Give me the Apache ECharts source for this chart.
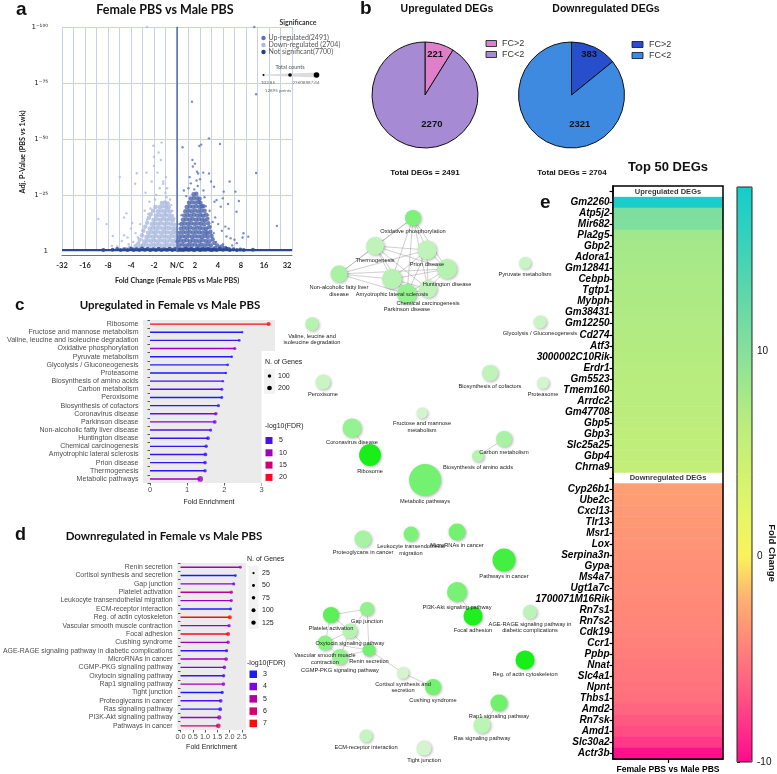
<!DOCTYPE html>
<html><head><meta charset="utf-8">
<script src="https://cdn.jsdelivr.net/npm/echarts@6/dist/echarts.min.js"></script>
<style>html,body{margin:0;padding:0;background:#fff}#c{width:777px;height:774px}</style>
</head><body><div id="c"></div>
<script>
// ---------------- DATA ----------------
// Panel a: volcano (log2 fold change, -log10 adj p)
const volcanoDownCore = [[-1.55,0.9],[-1.42,0.6],[-1.28,1.0],[-1.14,0.7],[-1.0,0.9],[-0.86,0.6],[-0.72,1.1],[-0.58,0.8],[-0.44,0.7],[-0.3,1.0],[-0.16,0.8],[-0.04,0.6],
[-1.48,2.6],[-1.35,2.9],[-1.21,2.5],[-1.07,2.8],[-0.93,2.6],[-0.79,2.9],[-0.65,2.5],[-0.51,2.8],[-0.37,2.6],[-0.23,2.9],[-0.09,2.5],
[-1.4,4.4],[-1.27,4.7],[-1.13,4.5],[-0.99,4.8],[-0.85,4.4],[-0.71,4.7],[-0.57,4.6],[-0.43,4.4],[-0.29,4.8],[-0.15,4.5],[-0.03,4.3],
[-1.33,6.3],[-1.2,6.6],[-1.06,6.4],[-0.92,6.7],[-0.78,6.3],[-0.64,6.6],[-0.5,6.5],[-0.36,6.3],[-0.22,6.7],[-0.08,6.4],
[-1.26,8.2],[-1.12,8.5],[-0.98,8.3],[-0.84,8.6],[-0.7,8.2],[-0.56,8.5],[-0.42,8.4],[-0.28,8.2],[-0.14,8.5],[-0.03,8.1],
[-1.18,10.1],[-1.04,10.4],[-0.9,10.2],[-0.76,10.5],[-0.62,10.1],[-0.48,10.4],[-0.34,10.3],[-0.2,10.1],[-0.07,10.0],
[-1.1,12.0],[-0.97,12.3],[-0.83,12.1],[-0.69,12.4],[-0.55,12.0],[-0.41,12.3],[-0.27,12.2],[-0.13,11.8],
[-1.02,13.9],[-0.88,14.2],[-0.74,14.0],[-0.6,14.3],[-0.46,13.9],[-0.32,14.2],[-0.18,13.8],
[-0.92,15.8],[-0.78,16.1],[-0.64,15.9],[-0.5,16.2],[-0.36,15.8],[-0.22,15.6],
[-0.84,17.7],[-0.7,18.0],[-0.56,17.8],[-0.42,18.1],[-0.3,17.6],
[-0.76,19.6],[-0.62,19.9],[-0.48,19.7],[-0.36,19.5],
[-0.66,21.4],[-0.52,21.7],[-0.4,21.2],
[-2.2,0.8],[-2.05,1.5],[-1.9,0.9],[-1.8,2.2],[-1.7,1.2],[-1.68,3.4],[-1.62,5.0],[-1.56,2.0],[-1.52,7.0],[-1.46,9.0],[-1.38,10.8],[-1.3,12.6],[-1.22,14.8],[-1.14,16.4],[-1.04,18.0],[-0.94,19.6]];
const volcanoDownSparse = [[-0.9,25],[-0.75,28],[-0.6,31],[-0.85,35],[-1.0,38],[-0.7,40.6],[-0.95,23],[-1.15,19],[-1.3,14],[-1.5,9],[-1.7,6],[-1.9,4],[-2.1,3],[-2.3,7],[-1.6,12],[-0.5,26],[-0.8,44],[-1.03,47],[-0.67,48.4],[-1.0,42],[-2.49,33],[-3.42,14.3],[-3.06,12],[-2.2,16.8],[-2.3,15],[-2.79,6.7],[-2.83,2.3],[-1.75,34.7],[-1.33,35],[-1.82,30],[-1.37,26],[-1.3,100],[-0.48,33],[-0.43,28],[-0.6,30],[-1.2,22],[-0.45,24],[-1.1,31],[-2.6,2],[-1.4,18],[-1.25,16.5],[-1.8,8],[-2.0,10],[-0.3,23],[-0.2,18],[-2.4,4.5],[-2.15,6],[-1.95,12.5],[-0.25,20.5],[-0.12,14.5]];
const volcanoUpCore = [[0.04,0.9],[0.17,0.6],[0.31,1.0],[0.44,0.7],[0.58,0.9],[0.71,0.6],[0.86,1.1],[0.99,0.8],[1.13,0.7],[1.27,1.0],[1.41,0.8],[1.55,0.6],
[0.09,2.6],[0.23,2.9],[0.37,2.5],[0.5,2.8],[0.64,2.6],[0.78,2.9],[0.92,2.5],[1.06,2.8],[1.2,2.6],[1.34,2.9],[1.47,2.5],
[0.03,4.4],[0.16,4.7],[0.3,4.5],[0.43,4.8],[0.57,4.4],[0.7,4.7],[0.84,4.6],[0.98,4.4],[1.12,4.8],[1.26,4.5],[1.4,4.3],
[0.1,6.3],[0.24,6.6],[0.37,6.4],[0.51,6.7],[0.65,6.3],[0.79,6.6],[0.93,6.5],[1.07,6.3],[1.21,6.7],[1.34,6.2],
[0.12,8.2],[0.27,8.5],[0.41,8.3],[0.55,8.6],[0.69,8.2],[0.83,8.5],[0.97,8.4],[1.11,8.2],[1.25,8.5],[1.33,7.9],
[0.16,10.1],[0.3,10.4],[0.44,10.2],[0.58,10.5],[0.72,10.1],[0.86,10.4],[1.0,10.3],[1.14,10.1],[1.27,10.0],
[0.2,12.0],[0.34,12.3],[0.48,12.1],[0.62,12.4],[0.76,12.0],[0.9,12.3],[1.04,12.2],[1.18,11.9],
[0.26,13.9],[0.4,14.2],[0.54,14.0],[0.68,14.3],[0.82,13.9],[0.96,14.2],[1.1,14.0],[1.21,13.6],
[0.32,15.8],[0.46,16.1],[0.6,15.9],[0.74,16.2],[0.88,15.8],[1.02,16.1],[1.14,15.7],
[0.36,17.7],[0.5,18.0],[0.64,17.8],[0.78,18.1],[0.92,17.7],[1.06,18.0],
[0.42,19.6],[0.56,19.9],[0.7,19.7],[0.84,20.0],[0.98,19.6],[1.08,19.9],
[0.52,21.5],[0.66,21.8],[0.8,21.6],[0.94,21.9],[1.02,21.4],
[0.6,23.4],[0.74,23.7],[0.88,23.5],[0.98,23.3],
[0.72,25.3],[0.84,25.6],
[1.65,1.2],[1.75,2.5],[1.85,1.0],[1.95,2.0],[2.1,1.3],[2.25,0.9],[1.62,3.6],[1.55,5.2],[1.5,6.8],[1.45,8.6],[1.4,10.6],[1.36,12.4],[1.32,14.4],[1.26,16.2],[1.2,18.0],[1.14,20.0]];
const volcanoUpSparse = [[0.24,46.3],[0.67,40.6],[0.78,39],[0.97,46.9],[1.05,47.5],[1.39,50.3],[1.87,47.8],[0.87,35.4],[0.92,34.6],[1.14,35],[1.39,34.6],[1.61,28.7],[2.29,31],[2.03,26.5],[2.54,26.5],[2.69,22.3],[2.59,17.5],[1.72,22.8],[1.9,19.8],[2.1,10.9],[2.33,5.7],[2.5,5],[2.89,7.9],[2.85,6],[2.25,10],[1.66,15],[1.79,12],[3.36,100],[0.65,66.6],[3.44,70],[0.69,37.7],[3.44,34.8],[1.48,31],[4.34,11.2],[3.1,6.4],[2.22,21],[1.63,22],[1.99,23.5],[0.5,28],[0.6,30.2],[0.9,29],[1.0,32],[0.75,27.5],[1.15,27],[0.4,24.5],[1.25,20],[1.35,16],[1.45,11],[1.6,8],[1.7,4],[1.85,2],[2.0,3],[0.3,27],[0.85,31.5],[1.55,13],[1.42,18],[0.55,33],[1.2,24],[2.4,2.5],[2.6,3.5],[2.15,6.5],[1.95,9],[0.2,16],[0.1,12]];
const volcanoNS = [[-3.2,0.5],[-2.8,0.6],[-2.6,0.9],[-2.45,0.4],[-2.3,0.8],[-2.15,0.5],[-2.0,1.0],[-1.88,0.4],[-1.76,0.8],[-1.64,0.5],[-1.52,1.1],[-1.4,0.6],[-1.28,0.9],[-1.16,0.4],[-1.04,0.8],[-0.92,0.5],[-0.8,1.0],[-0.68,0.4],[-0.56,0.8],[-0.44,0.6],[-0.32,1.0],[-0.2,0.5],[-0.08,0.9],[0.04,0.4],[0.16,0.8],[0.28,0.5],[0.4,1.0],[0.52,0.6],[0.64,0.9],[0.76,0.4],[0.88,0.8],[1.0,0.5],[1.12,1.0],[1.24,0.6],[1.36,0.9],[1.48,0.4],[1.6,0.8],[1.72,0.5],[1.86,0.9],[2.0,0.6],[2.15,1.0],[2.3,0.5],[2.45,0.8],[2.6,0.4],[2.75,0.7],[2.9,0.5],[3.3,0.6]];
const foldTickLabels = ['-32','-16','-8','-4','-2','N/C','2','4','8','16','32']; // at log2 = -5..5
const significanceNames = ['Up-regulated(2491)','Down-regulated (2704)','Not significant(7700)'];

// Panel b: pies
const pieNames = ['FC>2','FC<2'];
const pieUpValues = [221, 2270];
const pieDownValues = [383, 2321];

// Panel c: upregulated pathways
const upPathways = ['Ribosome','Fructose and mannose metabolism','Valine, leucine and isoleucine degradation','Oxidative phosphorylation','Pyruvate metabolism','Glycolysis / Gluconeogenesis','Proteasome','Biosynthesis of amino acids','Carbon metabolism','Peroxisome','Biosynthesis of cofactors','Coronavirus disease','Parkinson disease','Non-alcoholic fatty liver disease','Huntington disease','Chemical carcinogenesis','Amyotrophic lateral sclerosis','Prion disease','Thermogenesis','Metabolic pathways'];
const upFold = [3.19,2.48,2.40,2.28,2.20,2.09,2.04,1.96,1.93,1.93,1.84,1.77,1.74,1.63,1.56,1.51,1.49,1.48,1.48,1.35];
const upFDR  = [21,3.2,4.5,9,3.5,3.5,3.2,4.5,5.5,3.5,4,7,7,5.5,4.5,4,4.5,4,4,10];
const upGenes = [140,36,53,76,43,50,43,43,76,66,76,107,118,85,118,96,118,107,96,300];
const upGeneKeys = [100,200];
const upFdrKeys = [5,10,15,20];

// Panel d: downregulated pathways
const downPathways = ['Renin secretion','Cortisol synthesis and secretion','Gap junction','Platelet activation','Leukocyte transendothelial migration','ECM-receptor interaction','Reg. of actin cytoskeleton','Vascular smooth muscle contraction','Focal adhesion','Cushing syndrome','AGE-RAGE signaling pathway in diabetic complications','MicroRNAs in cancer','CGMP-PKG signaling pathway','Oxytocin signaling pathway','Rap1 signaling pathway','Tight junction','Proteoglycans in cancer','Ras signaling pathway','PI3K-Akt signaling pathway','Pathways in cancer'];
const downFold = [2.44,2.24,2.17,2.07,2.07,2.04,2.01,1.98,1.94,1.94,1.88,1.86,1.79,1.76,1.75,1.70,1.64,1.62,1.58,1.54];
const downFDR  = [4.6,3.1,4.0,5.2,4.4,3.2,7.0,4.2,6.8,4.6,3.3,4.6,3.9,3.4,4.7,3.1,3.6,3.3,4.5,5.8];
const downGenes = [50,42,58,76,66,50,107,66,107,76,58,85,76,66,85,66,85,85,118,156];
const downGeneKeys = [25,50,75,100,125];
const downFdrKeys = [3,4,5,6,7];

// Networks (layout coordinates)
const upNetNames = ['Oxidative phosphorylation','Thermogenesis','Prion disease','Huntington disease','Non-alcoholic fatty liver disease','Amyotrophic lateral sclerosis','Chemical carcinogenesis','Parkinson disease','Pyruvate metabolism','Valine, leucine and isoleucine degradation','Glycolysis / Gluconeogenesis','Biosynthesis of cofactors','Proteasome','Peroxisome','Fructose and mannose metabolism','Coronavirus disease','Ribosome','Carbon metabolism','Biosynthesis of amino acids','Metabolic pathways'];
const upNetX = [413,375,427,447,339,392,428,407,525,312,540,490,543,323,422,352,370,504,478,425];
const upNetY = [218,246,250,269,274,279,289,294,263,324,322,373,383,382,413,428,455,439,456,480];
const upNetEdges = [
['Oxidative phosphorylation','Thermogenesis'],['Oxidative phosphorylation','Non-alcoholic fatty liver disease'],['Oxidative phosphorylation','Prion disease'],['Oxidative phosphorylation','Huntington disease'],['Oxidative phosphorylation','Amyotrophic lateral sclerosis'],['Oxidative phosphorylation','Parkinson disease'],['Oxidative phosphorylation','Chemical carcinogenesis'],
['Thermogenesis','Non-alcoholic fatty liver disease'],['Thermogenesis','Prion disease'],['Thermogenesis','Huntington disease'],['Thermogenesis','Amyotrophic lateral sclerosis'],['Thermogenesis','Parkinson disease'],['Thermogenesis','Chemical carcinogenesis'],
['Non-alcoholic fatty liver disease','Prion disease'],['Non-alcoholic fatty liver disease','Huntington disease'],['Non-alcoholic fatty liver disease','Amyotrophic lateral sclerosis'],['Non-alcoholic fatty liver disease','Parkinson disease'],
['Prion disease','Huntington disease'],['Prion disease','Amyotrophic lateral sclerosis'],['Prion disease','Parkinson disease'],['Prion disease','Chemical carcinogenesis'],
['Huntington disease','Amyotrophic lateral sclerosis'],['Huntington disease','Parkinson disease'],['Huntington disease','Chemical carcinogenesis'],
['Amyotrophic lateral sclerosis','Parkinson disease'],['Amyotrophic lateral sclerosis','Chemical carcinogenesis'],['Parkinson disease','Chemical carcinogenesis'],
['Coronavirus disease','Ribosome'],['Carbon metabolism','Biosynthesis of amino acids']];
const downNetNames = ['Proteoglycans in cancer','Leukocyte transendothelial migration','MicroRNAs in cancer','Pathways in cancer','PI3K-Akt signaling pathway','Focal adhesion','AGE-RAGE signaling pathway in diabetic complications','Reg. of actin cytoskeleton','Platelet activation','Gap junction','Oxytocin signaling pathway','Vascular smooth muscle contraction','CGMP-PKG signaling pathway','Renin secretion','Cortisol synthesis and secretion','Cushing syndrome','Rap1 signaling pathway','Ras signaling pathway','ECM-receptor interaction','Tight junction'];
const downNetX = [363,411,457,504,457,473,530,525,331,367,350,325,340,369,403,433,499,482,366,424];
const downNetY = [539,534,532,560,592,616,612,660,615,609,631,643,657,650,673,687,703,725,736,748];
const downNetEdges = [
['Platelet activation','Gap junction'],['Platelet activation','Oxytocin signaling pathway'],['Platelet activation','Vascular smooth muscle contraction'],
['Gap junction','Oxytocin signaling pathway'],['Gap junction','Renin secretion'],
['Oxytocin signaling pathway','Vascular smooth muscle contraction'],['Oxytocin signaling pathway','CGMP-PKG signaling pathway'],['Oxytocin signaling pathway','Renin secretion'],
['Vascular smooth muscle contraction','CGMP-PKG signaling pathway'],['Vascular smooth muscle contraction','Renin secretion'],['CGMP-PKG signaling pathway','Renin secretion'],
['Renin secretion','Cortisol synthesis and secretion'],['Cortisol synthesis and secretion','Cushing syndrome'],
['PI3K-Akt signaling pathway','Focal adhesion'],['Rap1 signaling pathway','Ras signaling pathway']];
const netLabelText = {
 'Valine, leucine and isoleucine degradation':'Valine, leucine and\nisoleucine degradation',
 'Fructose and mannose metabolism':'Fructose and mannose\nmetabolism',
 'Non-alcoholic fatty liver disease':'Non-alcoholic fatty liver\ndisease',
 'Leukocyte transendothelial migration':'Leukocyte transendothelial\nmigration',
 'AGE-RAGE signaling pathway in diabetic complications':'AGE-RAGE signaling pathway in\ndiabetic complications',
 'Vascular smooth muscle contraction':'Vascular smooth muscle\ncontraction',
 'Cortisol synthesis and secretion':'Cortisol synthesis and\nsecretion'};

// Panel e: top 50 DEGs
const upDEGs = ['Gm2260','Atp5j2','Mir682','Pla2g5','Gbp2','Adora1','Gm12841','Cebpb','Tgtp1','Mybph','Gm38431','Gm12250','Cd274','Atf3','3000002C10Rik','Erdr1','Gm5523','Tmem160','Arrdc2','Gm47708','Gbp5','Gbp3','Slc25a25','Gbp4','Chrna9'];
const upDEGfc = [17.5,10.6,10.4,8.2,8.0,7.8,7.6,7.5,7.4,7.3,7.2,7.1,7.0,6.9,6.8,6.7,6.6,6.5,6.4,6.3,6.2,6.1,6.0,5.9,5.8];
const downDEGs = ['Cyp26b1','Ube2c','Cxcl13','Tlr13','Msr1','Lox','Serpina3n','Gypa','Ms4a7','Ugt1a7c','1700071M16Rik','Rn7s1','Rn7s2','Cdk19','Ccr1','Ppbp','Nnat','Slc4a1','Npnt','Thbs1','Amd2','Rn7sk','Amd1','Slc30a2','Actr3b'];
const downDEGfc = [-3.0,-3.1,-3.2,-3.3,-3.4,-3.5,-3.6,-3.7,-3.8,-3.9,-4.0,-4.1,-4.2,-4.3,-4.5,-4.7,-4.9,-5.0,-5.2,-5.4,-6.0,-6.5,-7.0,-8.0,-9.8];
const degHeaders = ['Upregulated DEGs','Downregulated DEGs'];
const colorbarTicks = [-10, 0, 10];

// ---------------- STYLE / HELPERS ----------------
const FT = "Lato, 'Open Sans', sans-serif";
const FA = "'Liberation Sans', Arial, sans-serif";
const BR = ['#1a1aff','#8a00e0','#b5009c','#d9006a','#ff0d0d'];
const HEAT = ['#ff0a8c','#ff3888','#ff6480','#ff8a78','#fdb270','#faf25c','#e6f668','#d2f270','#c0ee7a','#a4e88a','#86e09c','#6ad9a6','#4cd4b2','#30d0c0','#14cccc'];
function hex2rgb(h){return [1,3,5].map(i=>parseInt(h.slice(i,i+2),16));}
function mix(a,b,t){const A=hex2rgb(a),B=hex2rgb(b);return 'rgb('+A.map((v,i)=>Math.round(v+(B[i]-v)*t)).join(',')+')';}
function ramp(stops,t){t=Math.max(0,Math.min(1,t));const n=stops.length-1;const i=Math.min(n-1,Math.floor(t*n));return mix(stops[i],stops[i+1],t*n-i);}
function T(x,y,text,font,fill,align,va,extra){return Object.assign({type:'text',x:x,y:y,silent:true,z:100,style:{text:text,font:font,fill:fill||'#222',align:align||'left',verticalAlign:va||'middle'}},extra||{});}
const sizeC = n => 0.5 + 0.3*Math.sqrt(n);
const sizeD = n => 0.5 + 0.35*Math.sqrt(n);

function netNodes(names, xs, ys, pNames, fdr, genes){
  const fmin=Math.min(...fdr), fmax=Math.max(...fdr);
  return names.map((n,i)=>{
    const k=pNames.indexOf(n);
    const t=(fdr[k]-fmin)/(fmax-fmin);
    return {name:n, value:[xs[i],ys[i]], symbolSize:2*0.92*Math.sqrt(genes[k]),
      itemStyle:{color:mix('#d4f4ce','#18ee18',Math.pow(t,0.7))}};
  });
}
function lolliData(fold,fdr,genes){return fold.map((v,i)=>[v,i,fdr[i],genes[i]]);}
function stemRender(params, api){
  const y=api.value(1);
  const p0=api.coord([0,y]), p1=api.coord([api.value(0),y]);
  return {type:'line',shape:{x1:p0[0],y1:p0[1],x2:p1[0],y2:p1[1]},style:{stroke:api.visual('color'),lineWidth:1.4}};
}

const rowLabels = [''].concat(upDEGs,[''],downDEGs);
const heatData = upDEGfc.map((v,i)=>[0,i+1,v]).concat(downDEGfc.map((v,i)=>[0,i+27,v]));
const supMap = {'-':'\u207B','0':'\u2070','1':'\u00B9','2':'\u00B2','5':'\u2075','7':'\u2077'};

// ---------------- GRAPHICS (annotations/legends) ----------------
const g = [];
g.push(T(16,10,'a','bold 19px '+FA,'#111'));
g.push(T(360,9,'b','bold 19px '+FA,'#111'));
g.push(T(15,305,'c','bold 17px '+FA,'#111'));
g.push(T(15,535,'d','bold 18px '+FA,'#111'));
g.push(T(540,203,'e','bold 19px '+FA,'#111'));
g.push(T(165,10,'Female PBS vs Male PBS','bold 12.5px '+FT,'#111','center'));
g.push(T(447,9,'Upregulated DEGs','bold 10.5px '+FA,'#111','center'));
g.push(T(606,9,'Downregulated DEGs','bold 10.5px '+FA,'#111','center'));
g.push(T(170,305,'Upregulated in Female vs Male PBS','bold 11.5px '+FT,'#111','center'));
g.push(T(164,536,'Downregulated in Female vs Male PBS','bold 11.5px '+FT,'#111','center'));
g.push(T(668,167,'Top 50 DEGs','bold 13px '+FA,'#111','center'));
g.push(T(425,173,'Total DEGs = '+(pieUpValues[0]+pieUpValues[1]),'bold 8px '+FA,'#111','center'));
g.push(T(572,173,'Total DEGs = '+(pieDownValues[0]+pieDownValues[1]),'bold 8px '+FA,'#111','center'));
g.push(T(23,152,'Adj. P-Value (PBS vs 1wk)','bold 7.3px '+FT,'#222','center','middle',{rotation:Math.PI/2}));
g.push(T(298,23,'Significance','bold 7px '+FT,'#333','center'));
const sigColors=['#5b73b6','#aab9de','#203f8f'];
significanceNames.forEach((s,i)=>{
  g.push({type:'circle',silent:true,z:100,shape:{cx:263.5,cy:38+i*7,r:2.2},style:{fill:sigColors[i]}});
  g.push(T(268.5,38+i*7,s,'7px '+FT,'#555'));
});
g.push(T(290,67,'Total counts','5.5px '+FT,'#555','center'));
g.push({type:'polygon',silent:true,z:100,shape:{points:[[263,74.6],[318,72.5],[318,77.5],[263,75.4]]},style:{fill:'#dcdcdc'}});
g.push({type:'circle',silent:true,z:101,shape:{cx:263.5,cy:75,r:1},style:{fill:'#000'}});
g.push({type:'circle',silent:true,z:101,shape:{cx:290,cy:75,r:1.8},style:{fill:'#000'}});
g.push({type:'circle',silent:true,z:101,shape:{cx:316.5,cy:75,r:2.8},style:{fill:'#000'}});
g.push(T(268,83,'102.85','4.5px '+FT,'#666','center'));
g.push(T(306,83,'23608887.44','4.5px '+FT,'#666','center'));
g.push(T(278,91,'12895 points','4.5px '+FT,'#666','center'));
const pieUpColors=['#e07fc9','#a68bd4'], pieDownColors=['#284fcb','#3e8ae0'];
pieNames.forEach((n,i)=>{
  g.push({type:'rect',silent:true,z:100,shape:{x:486,y:40.5+i*11,width:10.5,height:6},style:{fill:pieUpColors[i],stroke:'#111',lineWidth:0.8}});
  g.push(T(502,43.5+i*11,n,'9px '+FA,'#333'));
  g.push({type:'rect',silent:true,z:100,shape:{x:632,y:41.5+i*11,width:11,height:6},style:{fill:pieDownColors[i],stroke:'#111',lineWidth:0.8}});
  g.push(T(649,44.5+i*11,n,'9px '+FA,'#333'));
});
g.push({type:'rect',silent:true,z:50,shape:{x:261.5,y:351,width:20,height:134},style:{fill:'#fff'}});
g.push({type:'rect',silent:true,z:51,shape:{x:264,y:369,width:11,height:25},style:{fill:'#f2f2f2'}});
g.push(T(265,362,'N. of Genes','7px '+FA,'#222'));
upGeneKeys.forEach((k,i)=>{
  g.push({type:'circle',silent:true,z:101,shape:{cx:269.5,cy:376+i*12,r:sizeC(k)/2},style:{fill:'#000'}});
  g.push(T(278,376+i*12,String(k),'7px '+FA,'#222'));
});
g.push(T(265,426,'-log10(FDR)','7px '+FA,'#222'));
const cMin=Math.min(...upFDR), cMax=Math.max(...upFDR);
upFdrKeys.forEach((k,i)=>{
  g.push({type:'rect',silent:true,z:101,shape:{x:265.5,y:437+i*12.3,width:7,height:7},style:{fill:ramp(BR,(k-cMin)/(cMax-cMin))}});
  g.push(T(279,440.5+i*12.3,String(k),'7px '+FA,'#222'));
});
g.push({type:'rect',silent:true,z:51,shape:{x:248.5,y:566,width:10,height:63},style:{fill:'#f2f2f2'}});
g.push(T(247,559,'N. of Genes','7px '+FA,'#222'));
downGeneKeys.forEach((k,i)=>{
  g.push({type:'circle',silent:true,z:101,shape:{cx:253.5,cy:573+i*12.4,r:sizeD(k)/2},style:{fill:'#000'}});
  g.push(T(262,573+i*12.4,String(k),'7px '+FA,'#222'));
});
g.push(T(247,663,'-log10(FDR)','7px '+FA,'#222'));
const dMin=Math.min(...downFDR), dMax=Math.max(...downFDR);
downFdrKeys.forEach((k,i)=>{
  g.push({type:'rect',silent:true,z:101,shape:{x:249.5,y:670.5+i*12.3,width:7.5,height:7.5},style:{fill:ramp(BR,(k-dMin)/(dMax-dMin))}});
  g.push(T(263,674+i*12.3,String(k),'7px '+FA,'#222'));
});
g.push(T(772,553,'Fold Change','bold 9.5px '+FA,'#111','center','middle',{rotation:-Math.PI/2}));

// ---------------- OPTION ----------------
const pieLabelOffsets = [[[2,-12],[15,1]],[[5,-14],[21,3]]];
function pieData(vals, cols, offs){return pieNames.map((n,i)=>({name:n,value:vals[i],itemStyle:{color:cols[i]},label:{offset:offs[i]}}));}
const pieBase = {type:'pie',radius:53,startAngle:90,clockwise:true,silent:true,
  itemStyle:{borderColor:'#111',borderWidth:1},
  label:{show:true,position:'inside',formatter:'{c}',fontSize:9.5,fontWeight:'bold',color:'#111',fontFamily:FA},
  labelLine:{show:false},emphasis:{disabled:true}};

const catAxisStyle = (names,grid,fs)=>({type:'category',gridIndex:grid,data:names,inverse:true,
  axisLine:{show:false},axisTick:{show:true,length:2.5,lineStyle:{color:'#333',width:0.8}},
  axisLabel:{interval:0,fontSize:fs,color:'#4d4d4d',margin:4.5,fontFamily:FA},splitLine:{show:false}});

const option = {
  animation:false,
  textStyle:{fontFamily:FA},
  graphic:g,
  grid:[
    {left:62,top:27,width:230,height:224},
    {left:143,top:320,width:132,height:163,show:true,backgroundColor:'#ebebeb',borderWidth:0},
    {left:157,top:563,width:89,height:167,show:true,backgroundColor:'#ebebeb',borderWidth:0},
    {left:300,top:180,width:300,height:590},
    {left:613,top:186,width:110,height:573,show:true,z:6,backgroundColor:'transparent',borderColor:'#000',borderWidth:1.5},
    {left:737,top:187,width:15,height:575,show:true,z:6,backgroundColor:'transparent',borderColor:'#222',borderWidth:1}
  ],
  xAxis:[
    {type:'value',gridIndex:0,min:-5,max:5,interval:0.5,offset:4,
     axisLine:{show:true,onZero:false,lineStyle:{color:'#5b73b6',width:1}},axisTick:{show:false},
     axisLabel:{margin:7,color:'#222',fontFamily:FT,fontWeight:'bold',fontSize:7.5,
       formatter:v=>{if(!Number.isInteger(v))return '';const s=foldTickLabels[v+5];return v>0?'{p|'+s+'}':s;},
       rich:{p:{padding:[0,10,0,0],fontFamily:FT,fontWeight:'bold',fontSize:7.5,color:'#222'}}},
     splitLine:{show:true,lineStyle:{color:'#c8d1ea',width:1}},
     name:'Fold Change (Female PBS vs Male PBS)',nameLocation:'middle',nameGap:22,
     nameTextStyle:{fontFamily:FT,fontWeight:'bold',fontSize:7.2,color:'#222'}},
    {type:'value',gridIndex:1,min:-0.188,max:3.36,axisLine:{show:false},
     axisTick:{show:true,customValues:[0,1,2,3],length:2.5,lineStyle:{color:'#333',width:0.8}},
     axisLabel:{customValues:[0,1,2,3],fontSize:7.5,color:'#4d4d4d',margin:3},splitLine:{show:false},
     name:'Fold Enrichment',nameLocation:'middle',nameGap:16,nameTextStyle:{fontSize:7,color:'#1a1a1a'}},
    {type:'value',gridIndex:2,min:-0.136,max:2.67,axisLine:{show:false},
     axisTick:{show:true,customValues:[0,0.5,1,1.5,2,2.5],length:2.5,lineStyle:{color:'#333',width:0.8}},
     axisLabel:{customValues:[0,0.5,1,1.5,2,2.5],formatter:v=>v.toFixed(1),fontSize:7.3,color:'#4d4d4d',margin:3},splitLine:{show:false},
     name:'Fold Enrichment',nameLocation:'middle',nameGap:14,nameTextStyle:{fontSize:7,color:'#1a1a1a'}},
    {type:'value',gridIndex:3,min:300,max:600,show:false},
    {type:'category',gridIndex:4,data:['Female PBS vs Male PBS'],
     axisLine:{show:true,lineStyle:{color:'#000',width:1.5}},
     axisTick:{show:true,alignWithLabel:true,length:4,lineStyle:{color:'#000',width:1.2}},
     axisLabel:{fontSize:8.6,fontWeight:'bold',color:'#000',margin:6}},
    {type:'value',gridIndex:5,min:0,max:1,show:false}
  ],
  yAxis:[
    {type:'value',gridIndex:0,min:0,max:100,interval:25,offset:4,
     axisLine:{show:true,lineStyle:{color:'#5b73b6',width:1}},axisTick:{show:false},
     axisLabel:{margin:10,color:'#222',fontSize:7,fontFamily:"'DejaVu Sans', sans-serif",
       formatter:v=>v===0?'1':'1'+('-'+v).split('').map(c=>supMap[c]).join('')},
     splitLine:{show:true,lineStyle:{color:'#c8d1ea',width:1}}},
    catAxisStyle(upPathways,1,7.05),
    catAxisStyle(downPathways,2,6.9),
    {type:'value',gridIndex:3,min:180,max:770,inverse:true,show:false},
    {type:'category',gridIndex:4,data:rowLabels,inverse:true,
     axisLine:{show:true,lineStyle:{color:'#000',width:1.5}},
     axisTick:{show:true,alignWithLabel:true,length:3.5,lineStyle:{color:'#000',width:1.2}},
     axisLabel:{interval:0,fontSize:10,fontWeight:'bold',fontStyle:'italic',color:'#000',margin:3.5}},
    {type:'value',gridIndex:5,min:-10,max:18,position:'right',
     axisLine:{show:false},
     axisTick:{show:true,customValues:colorbarTicks,length:3,inside:false,lineStyle:{color:'#222'}},
     axisLabel:{customValues:colorbarTicks,fontSize:10,color:'#111',margin:5},splitLine:{show:false}}
  ],
  visualMap:[
    {type:'continuous',show:false,seriesIndex:[7,8],dimension:2,min:cMin,max:cMax,inRange:{color:BR}},
    {type:'continuous',show:false,seriesIndex:[9,10],dimension:2,min:dMin,max:dMax,inRange:{color:BR}},
    {type:'continuous',show:true,seriesIndex:13,dimension:2,min:-10,max:18,inRange:{color:HEAT},
     left:737,top:187,itemWidth:15,itemHeight:575,padding:0,calculable:false,orient:'vertical',hoverLink:false}
  ],
  series:[
    {type:'scatter',xAxisIndex:0,yAxisIndex:0,data:volcanoDownCore,symbolSize:4.5,itemStyle:{color:'#aab9de'},silent:true,z:2},
    {type:'scatter',xAxisIndex:0,yAxisIndex:0,data:volcanoDownSparse,symbolSize:2.4,itemStyle:{color:'#aab9de'},silent:true,z:2},
    {type:'scatter',xAxisIndex:0,yAxisIndex:0,data:volcanoUpCore,symbolSize:4.5,itemStyle:{color:'#4e67ad'},silent:true,z:2},
    {type:'scatter',xAxisIndex:0,yAxisIndex:0,data:volcanoUpSparse,symbolSize:2.4,itemStyle:{color:'#5b73b6'},silent:true,z:2},
    {type:'scatter',xAxisIndex:0,yAxisIndex:0,data:volcanoNS,symbolSize:4,itemStyle:{color:'#203f8f'},silent:true,z:3,
     markLine:{silent:true,symbol:'none',label:{show:false},
       data:[{yAxis:0.7,lineStyle:{color:'#2b4895',width:2,type:'solid'}},{xAxis:0,lineStyle:{color:'#6078b8',width:1.5,type:'solid'}}]}},
    Object.assign({},pieBase,{center:[425,95],data:pieData(pieUpValues,pieUpColors,pieLabelOffsets[0])}),
    Object.assign({},pieBase,{center:[571.5,95],data:pieData(pieDownValues,pieDownColors,pieLabelOffsets[1])}),
    {type:'custom',xAxisIndex:1,yAxisIndex:1,data:lolliData(upFold,upFDR,upGenes),encode:{x:0,y:1},renderItem:stemRender,silent:true,z:2},
    {type:'scatter',xAxisIndex:1,yAxisIndex:1,data:lolliData(upFold,upFDR,upGenes),encode:{x:0,y:1},symbolSize:d=>sizeC(d[3]),silent:true,z:3},
    {type:'custom',xAxisIndex:2,yAxisIndex:2,data:lolliData(downFold,downFDR,downGenes),encode:{x:0,y:1},renderItem:stemRender,silent:true,z:2},
    {type:'scatter',xAxisIndex:2,yAxisIndex:2,data:lolliData(downFold,downFDR,downGenes),encode:{x:0,y:1},symbolSize:d=>sizeD(d[3]),silent:true,z:3},
    {type:'graph',layout:'none',coordinateSystem:'cartesian2d',xAxisIndex:3,yAxisIndex:3,silent:true,
     data:netNodes(upNetNames,upNetX,upNetY,upPathways,upFDR,upGenes),
     links:upNetEdges.map(e=>({source:e[0],target:e[1]})),
     lineStyle:{color:'#9a9a9a',width:0.6,opacity:0.8},
     itemStyle:{shadowBlur:3,shadowColor:'rgba(0,0,0,0.3)',shadowOffsetX:1,shadowOffsetY:1},
     label:{show:true,position:'bottom',distance:2,fontSize:5.7,lineHeight:6.5,color:'#222',formatter:p=>netLabelText[p.name]||p.name},
     emphasis:{disabled:true}},
    {type:'graph',layout:'none',coordinateSystem:'cartesian2d',xAxisIndex:3,yAxisIndex:3,silent:true,
     data:netNodes(downNetNames,downNetX,downNetY,downPathways,downFDR,downGenes),
     links:downNetEdges.map(e=>({source:e[0],target:e[1]})),
     lineStyle:{color:'#aaaaaa',width:0.6,opacity:0.85},
     itemStyle:{shadowBlur:3,shadowColor:'rgba(0,0,0,0.3)',shadowOffsetX:1,shadowOffsetY:1},
     label:{show:true,position:'bottom',distance:2,fontSize:5.7,lineHeight:6.5,color:'#222',formatter:p=>netLabelText[p.name]||p.name},
     emphasis:{disabled:true}},
    {type:'heatmap',xAxisIndex:4,yAxisIndex:4,data:heatData,silent:true,itemStyle:{borderWidth:0},emphasis:{disabled:true}},
    {type:'scatter',xAxisIndex:4,yAxisIndex:4,data:[[0,0],[0,26]],symbol:'rect',symbolSize:[108,10],itemStyle:{color:'#fff'},silent:true,
     label:{show:true,position:'inside',formatter:p=>degHeaders[p.dataIndex],fontSize:7.5,fontWeight:'bold',color:'#000'}}
  ]
};
const chart = echarts.init(document.getElementById('c'));
chart.setOption(option);
</script></body></html>
